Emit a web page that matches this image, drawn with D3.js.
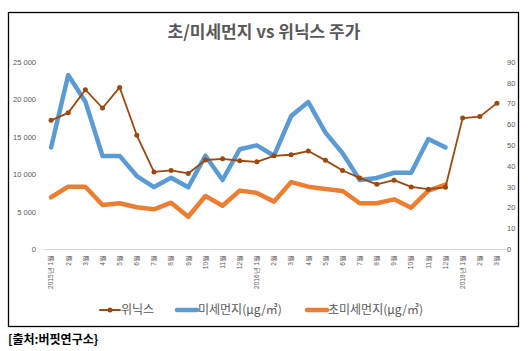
<!DOCTYPE html>
<html>
<head>
<meta charset="utf-8">
<title>초/미세먼지 vs 위닉스 주가</title>
<script src="https://d3js.org/d3.v7.min.js"></script>
<style>
    body { margin: 0; background: white; font-family: "Noto Sans CJK KR", "Noto Sans", sans-serif; }
</style>
</head>
<body>
<div id="chart"></div>
<script>
    // categories
    var months = ["2015년 1월","2월","3월","4월","5월","6월","7월","8월","9월","10월","11월","12월",
                  "2016년 1월","2월","3월","4월","5월","6월","7월","8월","9월","10월","11월","12월",
                  "2018년 1월","2월","3월"];
    // 위닉스 stock price (left axis)
    var winix = [17200,18200,21300,18850,21600,15200,10300,10500,10100,11900,12050,11800,
                 11650,12450,12600,13100,11850,10500,9500,8650,9200,8300,8000,8250,
                 17500,17700,19500];
    // PM10 (right axis)
    var pm10 = [48.9,83.7,70.9,44.8,44.8,35.1,29.8,34.3,29.7,44.9,33.2,48.0,
                49.9,44.9,64.0,70.7,56.0,46.1,33.2,34.2,36.7,36.7,52.9,48.9,
                null,null,null];
    // PM2.5 (right axis)
    var pm25 = [24.9,30.0,30.0,21.2,22.0,20.1,19.1,22.3,15.5,25.5,20.8,28.1,
                27.0,22.8,32.2,30.0,28.9,27.9,22.0,22.0,23.9,19.9,28.1,31.0,
                null,null,null];
    var leftTicks = [0,5000,10000,15000,20000,25000];
    var rightTicks = [0,10,20,30,40,50,60,70,80,90];

    var width = 529, height = 351;
    var svg = d3.select("#chart").append("svg")
        .attr("width", width)
        .attr("height", height);

    // outer frame
    svg.append("rect")
        .attr("x", 8.5).attr("y", 12.5)
        .attr("width", 510).attr("height", 314)
        .attr("fill", "white").attr("stroke", "#000").attr("stroke-width", 1.3);

    svg.append("text")
        .attr("x", 264).attr("y", 38)
        .attr("text-anchor", "middle")
        .attr("font-size", 17).attr("font-weight", "bold")
        .attr("fill", "#595959")
        .text("초/미세먼지 vs 위닉스 주가");

    var x = d3.scaleBand().domain(months.map((d, i) => i)).range([42.5, 505.5]);
    var yL = d3.scaleLinear().domain([0, 25000]).range([249, 62]);
    var yR = d3.scaleLinear().domain([0, 90]).range([249, 62]);

    // left axis
    var gl = svg.append("g").attr("transform", "translate(36,0)")
        .call(d3.axisLeft(yL).tickValues(leftTicks).tickSize(0).tickPadding(0)
            .tickFormat(d => d === 0 ? "0" : d3.format(",")(d).replace(",", " ")));
    gl.select(".domain").remove();
    gl.selectAll("text").attr("font-size", 7.5).attr("fill", "#595959").attr("font-family", "Liberation Sans, sans-serif");

    // right axis
    var gr = svg.append("g").attr("transform", "translate(507,0)")
        .call(d3.axisRight(yR).tickValues(rightTicks).tickSize(0).tickPadding(0));
    gr.select(".domain").remove();
    gr.selectAll("text").attr("font-size", 7.5).attr("fill", "#595959").attr("font-family", "Liberation Sans, sans-serif");

    // bottom axis
    var gx = svg.append("g").attr("transform", "translate(0,249)")
        .call(d3.axisBottom(x).tickSize(0).tickFormat(i => months[i]));
    gx.select(".domain").attr("stroke", "#d9d9d9");
    gx.selectAll("text")
        .attr("font-size", 6.5).attr("fill", "#595959")
        .attr("transform", "rotate(-90)")
        .attr("text-anchor", "end")
        .attr("x", -6).attr("y", 0).attr("dy", "0.35em");

    var cx = i => x(i) + x.bandwidth() / 2;

    function drawLine(values, yScale, color, w) {
        var line = d3.line()
            .defined(d => d != null)
            .x((d, i) => cx(i))
            .y(d => yScale(d));
        svg.append("path")
            .datum(values)
            .attr("d", line)
            .attr("fill", "none")
            .attr("stroke", color)
            .attr("stroke-width", w)
            .attr("stroke-linejoin", "round")
            .attr("stroke-linecap", "round");
    }

    drawLine(pm25, yR, "#ED7D31", 4.5);
    drawLine(pm10, yR, "#5B9BD5", 4.5);
    drawLine(winix, yL, "#9E480E", 1.8);
    svg.selectAll(".dot").data(winix).enter().append("circle")
        .attr("cx", (d, i) => cx(i))
        .attr("cy", d => yL(d))
        .attr("r", 2.5)
        .attr("fill", "#9E480E");

    // legend
    var legend = [
        { name: "위닉스", color: "#9E480E", w: 1.8, dot: true, x: 100 },
        { name: "미세먼지(μg/㎥)", color: "#5B9BD5", w: 4.5, dot: false, x: 177 },
        { name: "초미세먼지(μg/㎥)", color: "#ED7D31", w: 4.5, dot: false, x: 307 }
    ];
    var lg = svg.selectAll(".lg").data(legend).enter().append("g")
        .attr("transform", d => "translate(" + d.x + ",310)");
    lg.append("line")
        .attr("x1", 0).attr("x2", 20)
        .attr("stroke", d => d.color).attr("stroke-width", d => d.w)
        .attr("stroke-linecap", "round");
    lg.filter(d => d.dot).append("circle")
        .attr("cx", 10).attr("r", 2.5).attr("fill", d => d.color);
    lg.append("text")
        .attr("x", 21).attr("dy", "0.35em")
        .attr("font-size", 12).attr("fill", "#595959")
        .text(d => d.name);

    // source
    svg.append("text")
        .attr("x", 8).attr("y", 344)
        .attr("font-size", 12).attr("font-weight", "bold")
        .attr("fill", "#000")
        .text("[출처:버핏연구소}");
</script>
</body>
</html>
